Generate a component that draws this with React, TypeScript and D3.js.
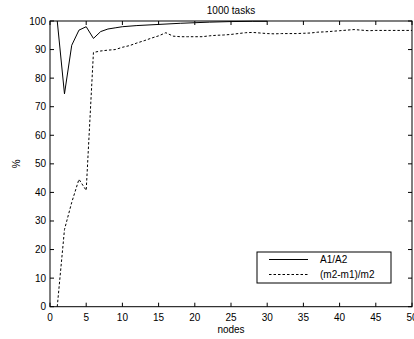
import { useEffect, useRef } from 'react'
import * as d3 from 'd3'

const title = '1000 tasks'
const xLabel = 'nodes'
const yLabel = '%'
const seriesNames = ['A1/A2', '(m2-m1)/m2']

// A1/A2 (solid), nodes 1..30
const solidX = [1, 2, 3, 4, 5, 6, 7, 8, 9, 10, 12, 15, 18, 20, 22, 25, 28, 30]
const solidY = [100, 74.5, 91.5, 96.8, 98, 93.9, 96.3, 97.2, 97.6, 98, 98.4, 98.8, 99.2, 99.4, 99.6, 99.8, 99.9, 99.9]

// (m2-m1)/m2 (dashed), nodes 1..50
const dashX = [1, 2, 3, 4, 5, 6, 7, 8, 9, 10, 11, 12, 13, 14, 15, 16, 17, 18, 19, 20, 21, 22, 23, 24, 25,
  26, 27, 28, 29, 30, 31, 32, 33, 34, 35, 36, 37, 38, 39, 40, 41, 42, 43, 44, 45, 46, 47, 48, 49, 50]
const dashY = [0, 27, 36.5, 44.6, 40.7, 89, 89.5, 89.8, 90, 90.8, 91.4, 92.3, 93.1, 94, 94.8, 95.9, 94.7, 94.5, 94.5, 94.5, 94.5, 94.8, 95, 95.1, 95.3,
  95.6, 95.9, 96, 95.8, 95.6, 95.5, 95.6, 95.6, 95.6, 95.7, 95.8, 96.1, 96.2, 96.4, 96.6, 96.8, 97, 96.8, 96.6, 96.7, 96.7, 96.7, 96.7, 96.7, 96.7]

const xTicks = [0, 5, 10, 15, 20, 25, 30, 35, 40, 45, 50]
const yTicks = [0, 10, 20, 30, 40, 50, 60, 70, 80, 90, 100]

export default function App() {
  const ref = useRef<HTMLDivElement>(null)

  useEffect(() => {
    if (!ref.current) return
    const container = ref.current
    container.innerHTML = ''

    const W = 414, H = 339
    const left = 50, right = 412, top = 21, bottom = 306.7
    const font = '"Liberation Sans", Arial, sans-serif'

    const svg = d3.select(container).append('svg')
      .attr('width', W).attr('height', H)
      .style('position', 'absolute').style('left', '0px').style('top', '0px')
      .style('font-family', font)

    svg.append('rect').attr('width', W).attr('height', H).attr('fill', '#fff')

    const x = d3.scaleLinear().domain([0, 50]).range([left, right])
    const y = d3.scaleLinear().domain([0, 100]).range([bottom, top])

    const tl = 4
    const g = svg.append('g')

    // ticks on all four sides, pointing inward
    xTicks.forEach(t => {
      g.append('line').attr('x1', x(t)).attr('x2', x(t)).attr('y1', bottom).attr('y2', bottom - tl).attr('stroke', '#000')
      g.append('line').attr('x1', x(t)).attr('x2', x(t)).attr('y1', top).attr('y2', top + tl).attr('stroke', '#000')
      g.append('text').attr('x', x(t)).attr('y', bottom + 14).attr('text-anchor', 'middle')
        .style('font-size', '10px').attr('fill', '#000').text(t)
    })
    yTicks.forEach(t => {
      g.append('line').attr('x1', left).attr('x2', left + tl).attr('y1', y(t)).attr('y2', y(t)).attr('stroke', '#000')
      g.append('line').attr('x1', right).attr('x2', right - tl).attr('y1', y(t)).attr('y2', y(t)).attr('stroke', '#000')
      g.append('text').attr('x', left - 4).attr('y', y(t) + 3.5).attr('text-anchor', 'end')
        .style('font-size', '10px').attr('fill', '#000').text(t)
    })

    g.append('rect').attr('x', left).attr('y', top).attr('width', right - left).attr('height', bottom - top)
      .attr('fill', 'none').attr('stroke', '#000').attr('stroke-width', 1)

    const line = d3.line<[number, number]>().x(d => x(d[0])).y(d => y(d[1]))

    const solid = solidX.map((v, i) => [v, solidY[i]] as [number, number])
    const dashed = dashX.map((v, i) => [v, dashY[i]] as [number, number])

    svg.append('path').attr('d', line(solid)).attr('fill', 'none').attr('stroke', '#000').attr('stroke-width', 1)
    svg.append('path').attr('d', line(dashed)).attr('fill', 'none').attr('stroke', '#000').attr('stroke-width', 1)
      .attr('stroke-dasharray', '2.5,2')

    // title and axis labels
    svg.append('text').attr('x', (left + right) / 2).attr('y', 14).attr('text-anchor', 'middle')
      .style('font-size', '10px').text(title)
    svg.append('text').attr('x', (left + right) / 2).attr('y', 333).attr('text-anchor', 'middle')
      .style('font-size', '10px').text(xLabel)
    svg.append('text').attr('transform', `translate(20, ${(top + bottom) / 2}) rotate(-90)`)
      .attr('text-anchor', 'middle').style('font-size', '10px').text(yLabel)

    // legend
    const lg = svg.append('g')
    lg.append('rect').attr('x', 257).attr('y', 252).attr('width', 134).attr('height', 31)
      .attr('fill', '#fff').attr('stroke', '#000')
    seriesNames.forEach((name, i) => {
      const ly = 259.5 + i * 15
      lg.append('line').attr('x1', 269).attr('x2', 308).attr('y1', ly).attr('y2', ly)
        .attr('stroke', '#000').attr('stroke-dasharray', i === 1 ? '2.5,2' : null)
      lg.append('text').attr('x', 320).attr('y', ly + 3.5).style('font-size', '10px').text(name)
    })

    return () => { container.innerHTML = '' }
  }, [])

  return <div ref={ref} />
}
